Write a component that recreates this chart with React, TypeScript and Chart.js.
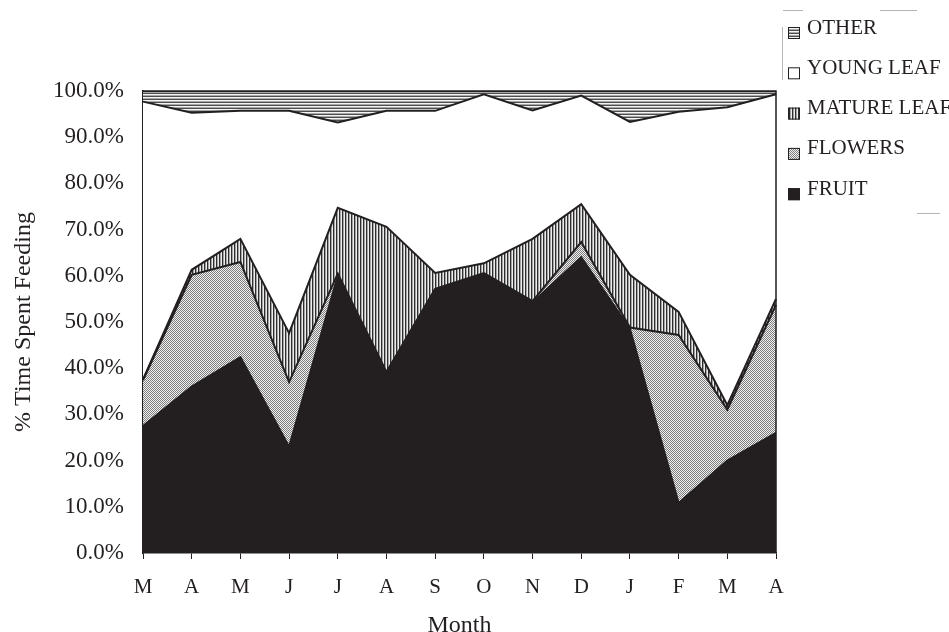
import React, { useEffect, useRef } from 'react';
import { Chart, registerables } from 'chart.js';

Chart.register(...registerables);

const MONTHS = ['M', 'A', 'M', 'J', 'J', 'A', 'S', 'O', 'N', 'D', 'J', 'F', 'M', 'A'];
const FRUIT = [27.5, 36, 42.4, 23, 60, 39, 57, 60.4, 54.3, 64, 48.5, 10.8, 20, 26];
const FLOWERS = [9.9, 24.2, 20.6, 14, 0.5, 0.2, 0.2, 0.2, 0.2, 3.3, 0.3, 36.4, 11, 27.7];
const MATURE_LEAF = [0.2, 1.1, 5, 10.6, 14.2, 31.4, 3.4, 2.1, 13.5, 8.2, 11.4, 5, 1, 1.3];
const YOUNG_LEAF = [60.1, 34, 27.7, 48.1, 18.5, 25.1, 35.1, 36.6, 27.8, 23.5, 33.1, 43.3, 64.5, 44.3];
const OTHER = [2.3, 4.7, 4.3, 4.3, 6.8, 4.3, 4.3, 0.7, 4.2, 1, 6.7, 4.5, 3.5, 0.7];
const SERIES_LABELS = ['FRUIT', 'FLOWERS', 'MATURE LEAF', 'YOUNG LEAF', 'OTHER'];
const Y_MIN = 0;
const Y_MAX = 100;
const Y_STEP = 10;

const INK = '#231f20';
const SERIF = "'Liberation Serif', 'Times New Roman', serif";

function makePattern(kind: string): CanvasPattern | string {
  const c = document.createElement('canvas');
  const g = c.getContext('2d');
  if (!g) return '#999';
  if (kind === 'stipple') {
    c.width = 2; c.height = 2;
    g.fillStyle = '#f0f0f0'; g.fillRect(0, 0, 2, 2);
    g.fillStyle = '#7e7e7e';
    g.fillRect(0, 0, 1, 1); g.fillRect(1, 1, 1, 1);
  } else if (kind === 'vertical') {
    c.width = 3; c.height = 1;
    const cols = ['#2e2e2e', '#a4a4a4', '#ececec'];
    cols.forEach((col, i) => { g.fillStyle = col; g.fillRect(i, 0, 1, 1); });
  } else {
    c.width = 1; c.height = 3;
    const rows = ['#4e4e4e', '#f4f4f4', '#a8a8a8'];
    rows.forEach((col, i) => { g.fillStyle = col; g.fillRect(0, i, 1, 1); });
  }
  return g.createPattern(c, 'repeat') || '#999';
}

export default function App() {
  const ref = useRef<HTMLCanvasElement | null>(null);

  useEffect(() => {
    const canvas = ref.current;
    if (!canvas) return;
    const stipple = makePattern('stipple');
    const vertical = makePattern('vertical');
    const horizontal = makePattern('horizontal');
    const fills = [INK, stipple, vertical, '#ffffff', horizontal];
    const values = [FRUIT, FLOWERS, MATURE_LEAF, YOUNG_LEAF, OTHER];

    const datasets = values.map((data, i) => ({
      label: SERIES_LABELS[i],
      data,
      fill: i === 0 ? 'origin' : '-1',
      backgroundColor: fills[i] as any,
      borderColor: INK,
      borderWidth: 2,
      pointRadius: 0,
      tension: 0,
    }));

    const framePlugin = {
      id: 'frameAndLegend',
      afterDraw(chart: any) {
        const { ctx, chartArea } = chart;
        ctx.save();
        ctx.strokeStyle = INK;
        ctx.lineWidth = 1.5;
        ctx.beginPath();
        ctx.moveTo(chartArea.left, chartArea.top);
        ctx.lineTo(chartArea.right, chartArea.top);
        ctx.lineTo(chartArea.right, chartArea.bottom);
        ctx.stroke();

        // faint legend frame remnants
        ctx.strokeStyle = '#b5b5b5';
        ctx.lineWidth = 1;
        ctx.beginPath();
        ctx.moveTo(783, 10.5); ctx.lineTo(803, 10.5);
        ctx.moveTo(880, 10.5); ctx.lineTo(917, 10.5);
        ctx.moveTo(782.5, 27); ctx.lineTo(782.5, 80);
        ctx.moveTo(917, 213.5); ctx.lineTo(940, 213.5);
        ctx.stroke();

        // legend (top item = last series)
        const order = [4, 3, 2, 1, 0];
        ctx.font = `21px ${SERIF}`;
        ctx.textBaseline = 'middle';
        ctx.textAlign = 'left';
        order.forEach((si, k) => {
          const cy = 27 + k * 40.3;
          const bx = 788;
          const by = cy;
          ctx.fillStyle = fills[si] as any;
          ctx.fillRect(bx, by, 12, 12);
          ctx.strokeStyle = INK;
          ctx.lineWidth = 1;
          ctx.strokeRect(bx + 0.5, by + 0.5, 11, 11);
          ctx.fillStyle = INK;
          ctx.fillText(SERIES_LABELS[si], 807, cy + 1);
        });
        ctx.restore();
      },
    };

    const chart = new Chart(canvas, {
      type: 'line',
      data: { labels: MONTHS, datasets: datasets as any },
      options: {
        animation: false,
        responsive: false,
        maintainAspectRatio: false,
        events: [],
        layout: { padding: { left: 0, top: 91, right: 173, bottom: 0 } },
        plugins: {
          legend: { display: false },
          tooltip: { enabled: false },
          filler: { propagate: false },
        },
        elements: { line: { tension: 0 } },
        scales: {
          x: {
            offset: false,
            grid: {
              display: true,
              drawOnChartArea: false,
              drawTicks: true,
              tickLength: 6,
              color: INK,
              lineWidth: 1,
            },
            border: { display: true, color: INK, width: 1.5 },
            ticks: {
              color: INK,
              font: { family: SERIF, size: 21 },
              padding: 16,
              maxRotation: 0,
              autoSkip: false,
            },
            title: {
              display: true,
              text: 'Month',
              color: INK,
              font: { family: SERIF, size: 24, lineHeight: 0.5 },
              padding: { top: 0, bottom: 0 },
            },
            afterFit: (s: any) => { s.height = 79; },
          },
          y: {
            stacked: true,
            min: Y_MIN,
            max: Y_MAX,
            grid: { display: false, drawTicks: false },
            border: { display: true, color: INK, width: 1.5 },
            ticks: {
              stepSize: Y_STEP,
              color: INK,
              font: { family: SERIF, size: 23 },
              padding: 19,
              callback: (v: any) => `${Number(v).toFixed(1)}%`,
            },
            title: {
              display: true,
              text: '% Time Spent Feeding',
              color: INK,
              font: { family: SERIF, size: 24, lineHeight: 1.2 },
              padding: { top: 9, bottom: 0 },
            },
            afterFit: (s: any) => { s.width = 143; },
          },
        },
      },
      plugins: [framePlugin],
    });

    return () => chart.destroy();
  }, []);

  return (
    <div style={{ position: 'fixed', left: 0, top: 0, width: 949, height: 632, background: '#fff' }}>
      <canvas ref={ref} width={949} height={632} style={{ width: 949, height: 632, display: 'block' }} />
    </div>
  );
}
